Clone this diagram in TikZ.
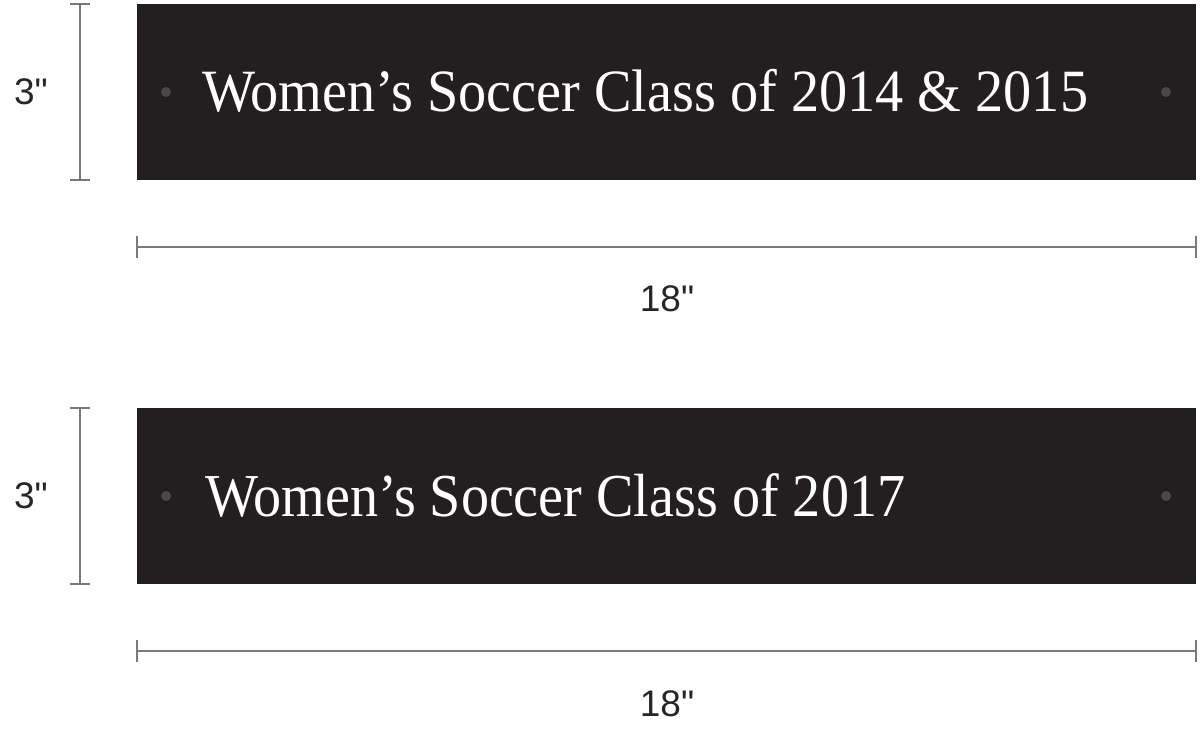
\documentclass[tikz,border=0pt]{standalone}
\usepackage{fontspec}
\usepackage{graphicx}
\setmainfont{Liberation Serif}
\newfontfamily\dimfont{Liberation Sans}
\definecolor{plaque}{HTML}{231F20}
\definecolor{dimgray}{HTML}{7A7A7A}
\definecolor{holegray}{HTML}{4A4748}
\begin{document}
\begin{tikzpicture}[x=1pt,y=-1pt,
  plaquebox/.style={fill=plaque,draw=none},
  dimline/.style={draw=dimgray,line width=1.1pt},
  dimlabel/.style={font=\dimfont\fontsize{37}{37}\selectfont,text=black!85,inner sep=0pt},
  hole/.style={circle,fill=holegray,minimum size=10pt,inner sep=0pt},
  plaquetext/.style={anchor=base west,inner sep=0pt,text=white}]
\useasboundingbox (0,0) rectangle (1200,735);
% plaque 1
\path[plaquebox] (137,4) rectangle (1196,180);
\node[hole] (h1l) at (166,92) {};
\node[hole] (h1r) at (1166,92) {};
\node[plaquetext] (t1) at (202,112) {\resizebox{886pt}{\height}{\fontsize{60}{60}\selectfont Women’s Soccer Class of 2014 \& 2015}};
% plaque 2
\path[plaquebox] (137,408) rectangle (1196,584);
\node[hole] (h2l) at (166,496) {};
\node[hole] (h2r) at (1166,496) {};
\node[plaquetext] (t2) at (205,516) {\resizebox{700pt}{\height}{\fontsize{61}{61}\selectfont Women’s Soccer Class of 2017}};
% vertical dims
\coordinate (v1a) at (80,4); \coordinate (v1b) at (80,180);
\draw[dimline] (v1a) -- (v1b);
\draw[dimline] (70,4) -- (90,4);
\draw[dimline] (70,180) -- (90,180);
\node[dimlabel] (l1) at (31,92) {3"};
\coordinate (v2a) at (80,408); \coordinate (v2b) at (80,584);
\draw[dimline] (v2a) -- (v2b);
\draw[dimline] (70,408) -- (90,408);
\draw[dimline] (70,584) -- (90,584);
\node[dimlabel] (l2) at (31,496) {3"};
% horizontal dims
\coordinate (w1a) at (137,247); \coordinate (w1b) at (1196,247);
\draw[dimline] (w1a) -- (w1b);
\draw[dimline] (137,236) -- (137,258);
\draw[dimline] (1196,236) -- (1196,258);
\node[dimlabel] (l3) at (667,299) {18"};
\coordinate (w2a) at (137,651); \coordinate (w2b) at (1196,651);
\draw[dimline] (w2a) -- (w2b);
\draw[dimline] (137,640) -- (137,662);
\draw[dimline] (1196,640) -- (1196,662);
\node[dimlabel] (l4) at (667,704) {18"};
\end{tikzpicture}
\end{document}
